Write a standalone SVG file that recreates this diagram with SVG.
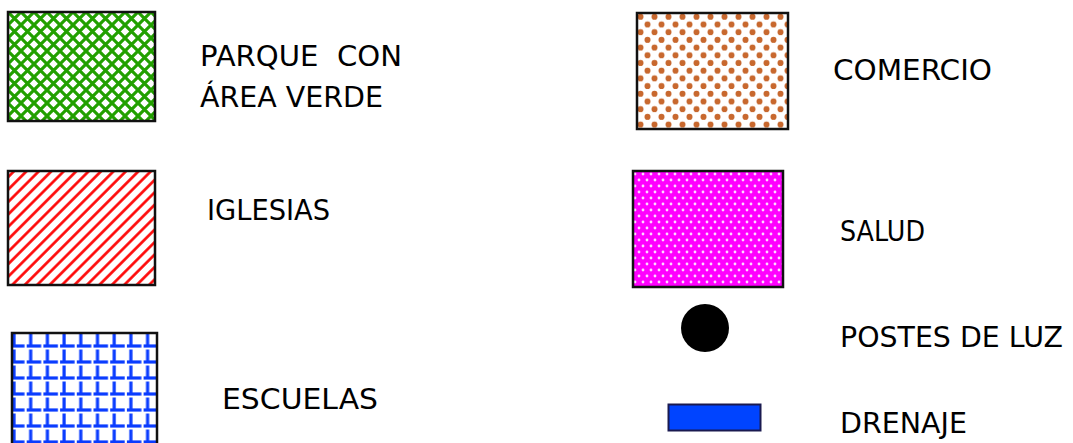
<svg xmlns="http://www.w3.org/2000/svg" width="1073" height="443" viewBox="0 0 1073 443">
<style>
text{font-family:"DejaVu Sans","Liberation Sans",sans-serif;font-size:29px;fill:#000;}
.box{stroke:#111;stroke-width:2.5;}
</style>
<defs>
<pattern id="pGreen" patternUnits="userSpaceOnUse" x="8" y="12" width="13" height="13">
<rect width="13" height="13" fill="#fff"/>
<path d="M-2,-2 L15,15 M15,-2 L-2,15" stroke="#22a000" stroke-width="3.1" fill="none"/>
</pattern>
<pattern id="pRed" patternUnits="userSpaceOnUse" width="8.8" height="8.8" patternTransform="translate(8,171) rotate(-45)">
<rect width="8.8" height="8.8" fill="#fff"/>
<line x1="0" y1="4.4" x2="8.8" y2="4.4" stroke="#ff0000" stroke-width="2.6"/>
</pattern>
<pattern id="pBlue" patternUnits="userSpaceOnUse" x="10" y="333" width="16.7" height="16">
<rect width="16.7" height="16" fill="#fff"/>
<line x1="4" y1="0.5" x2="4" y2="13" stroke="#0a3cff" stroke-width="3.2"/>
<line x1="0" y1="13" x2="14.5" y2="13" stroke="#0a3cff" stroke-width="3.2"/>
</pattern>
<pattern id="pBrown" patternUnits="userSpaceOnUse" x="637" y="13" width="14" height="15.4">
<rect width="14" height="15.4" fill="#fff"/>
<circle cx="3.5" cy="3.8" r="3" fill="#c8682e"/>
<circle cx="10.5" cy="11.5" r="3" fill="#c8682e"/>
</pattern>
<pattern id="pMag" patternUnits="userSpaceOnUse" x="633" y="171" width="8" height="12">
<rect width="8" height="12" fill="#ff00ff"/>
<circle cx="2" cy="3" r="1.4" fill="#ffd8ff"/>
<circle cx="6" cy="9" r="1.4" fill="#ffd8ff"/>
</pattern>
</defs>

<g id="parque">
<rect class="box" x="8" y="12" width="147" height="109" fill="url(#pGreen)"/>
<text x="200" y="66" textLength="202" lengthAdjust="spacingAndGlyphs" xml:space="preserve">PARQUE  CON</text>
<text x="200" y="107" textLength="183" lengthAdjust="spacingAndGlyphs">ÁREA VERDE</text>
</g>

<g id="iglesias">
<rect class="box" x="8" y="171" width="147" height="114" fill="url(#pRed)"/>
<text x="207" y="220" textLength="123" lengthAdjust="spacingAndGlyphs">IGLESIAS</text>
</g>

<g id="escuelas">
<rect class="box" x="12" y="333" width="145" height="120" fill="url(#pBlue)"/>
<text x="222" y="409" textLength="156" lengthAdjust="spacingAndGlyphs">ESCUELAS</text>
</g>

<g id="comercio">
<rect class="box" x="637" y="13" width="151" height="116" fill="url(#pBrown)"/>
<text x="833" y="80" textLength="159" lengthAdjust="spacingAndGlyphs">COMERCIO</text>
</g>

<g id="salud">
<rect class="box" x="633" y="171" width="150" height="116" fill="url(#pMag)"/>
<text x="840" y="241" textLength="85" lengthAdjust="spacingAndGlyphs">SALUD</text>
</g>

<g id="postes">
<circle cx="705" cy="328" r="24" fill="#000"/>
<text x="840" y="347" textLength="223" lengthAdjust="spacingAndGlyphs">POSTES DE LUZ</text>
</g>

<g id="drenaje">
<rect x="668.5" y="404.5" width="92" height="26" fill="#0044ff" stroke="#1a1a50" stroke-width="2"/>
<text x="840" y="433" textLength="127" lengthAdjust="spacingAndGlyphs">DRENAJE</text>
</g>
</svg>
